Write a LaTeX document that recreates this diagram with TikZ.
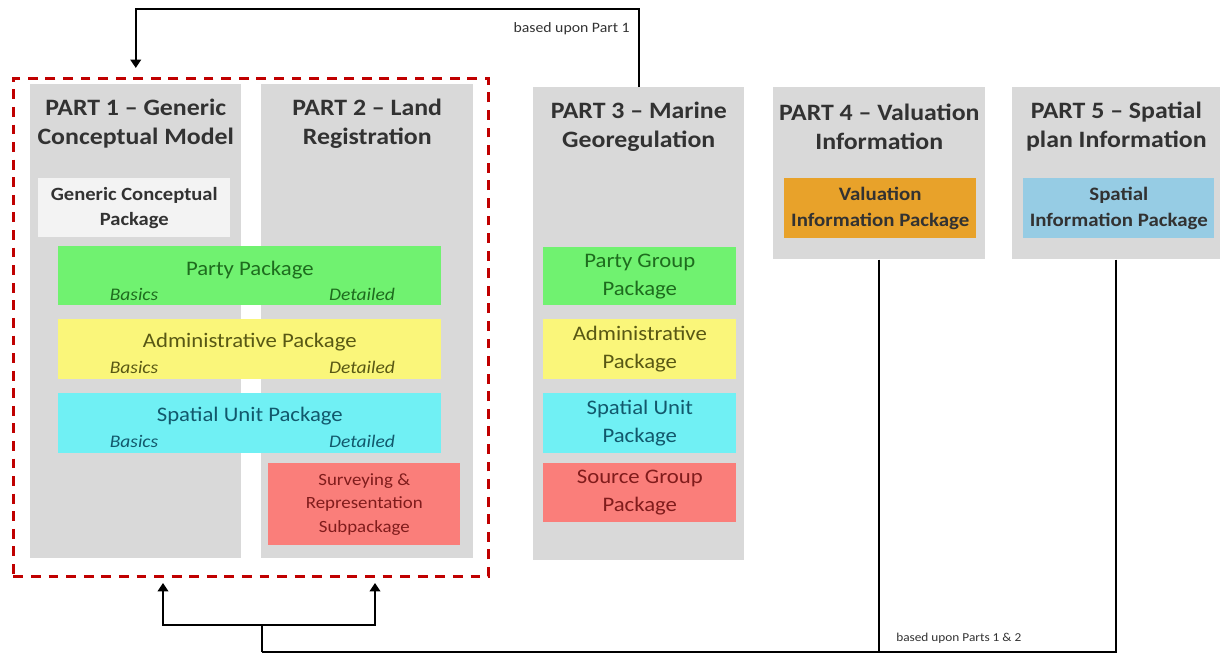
\documentclass[tikz,border=0pt]{standalone}
\usepackage{fontspec}
\setmainfont{Carlito}[FakeStretch=1.1]
\usetikzlibrary{arrows.meta,calc}
\definecolor{partgray}{RGB}{217,217,217}
\definecolor{genfill}{RGB}{243,243,243}
\definecolor{partyfill}{RGB}{112,242,112}
\definecolor{adminfill}{RGB}{250,246,122}
\definecolor{spatialfill}{RGB}{112,240,244}
\definecolor{sourcefill}{RGB}{250,126,122}
\definecolor{valfill}{RGB}{232,162,42}
\definecolor{spifill}{RGB}{150,204,228}
\definecolor{partytext}{RGB}{30,108,30}
\definecolor{admintext}{RGB}{88,88,20}
\definecolor{spatialtext}{RGB}{18,88,108}
\definecolor{sourcetext}{RGB}{128,28,28}
\definecolor{headtext}{RGB}{50,50,50}
\definecolor{framered}{RGB}{192,0,0}
\begin{document}
\begin{tikzpicture}[x=0.025cm,y=-0.025cm,
  every node/.style={inner sep=0pt,align=center},
  sz/.style 2 args={minimum width=#1*0.025cm,minimum height=#2*0.025cm},
  part/.style={fill=partgray,anchor=north west},
  head/.style={text=headtext,font=\fontsize{16.7}{20.6}\selectfont\bfseries},
  pkg/.style={anchor=north west},
  ptxt/.style={font=\fontsize{14.7}{20}\selectfont},
  itxt/.style={font=\fontsize{12.6}{14}\selectfont\itshape},
  note/.style={text=headtext,font=\fontsize{#1}{12}\selectfont},
  frame/.style={draw=framered,line width=2.1pt,dash pattern=on 7pt off 5.5pt,anchor=north west},
  conn/.style={line width=1.5pt,black},
  arr/.style={conn,-{Triangle[width=7.5pt,length=6pt]}}]
\useasboundingbox (0,0) rectangle (1220,654);
\node[part,sz={211}{474}] (p1) at (30,84) {};
\node[part,sz={212}{474}] (p2) at (261,84) {};
\node[part,sz={211}{473}] (p3) at (533,87) {};
\node[part,sz={212}{172}] (p4) at (773,87) {};
\node[part,sz={208}{172}] (p5) at (1012,87) {};
\node[frame,sz={475}{498}] (lado) at (12,77) {};
\node[head] (h1) at ($(p1.north)+(0,40)$) {PART 1 – Generic\\Conceptual Model};
\node[head] (h2) at ($(p2.north)+(0,40)$) {PART 2 – Land\\Registration};
\node[head] (h3) at ($(p3.north)+(0,40)$) {PART 3 – Marine\\Georegulation};
\node[head] (h4) at ($(p4.north)+(0,40)$) {PART 4 – Valuation\\Information};
\node[head] (h5) at ($(p5.north)+(0,40)$) {PART 5 – Spatial\\plan Information};
\node[pkg,fill=genfill,sz={192}{59},text=headtext,font=\fontsize{13.3}{17.8}\selectfont\bfseries] (gcp) at (38,178) {Generic Conceptual\\Package};
\node[pkg,fill=partyfill,sz={383}{59}] (party) at (58,246) {};
\node[ptxt,text=partytext] (partyT) at ($(party.center)+(0,-6)$) {Party Package};
\node[itxt,text=partytext] (partyB) at (134,294) {Basics};
\node[itxt,text=partytext] (partyD) at (362,294) {Detailed};
\node[pkg,fill=adminfill,sz={383}{60}] (admin) at (58,319) {};
\node[ptxt,text=admintext] (adminT) at ($(admin.center)+(0,-7)$) {Administrative Package};
\node[itxt,text=admintext] (adminB) at (134,367) {Basics};
\node[itxt,text=admintext] (adminD) at (362,367) {Detailed};
\node[pkg,fill=spatialfill,sz={383}{60}] (spatial) at (58,393) {};
\node[ptxt,text=spatialtext] (spatialT) at ($(spatial.center)+(0,-7)$) {Spatial Unit Package};
\node[itxt,text=spatialtext] (spatialB) at (134,441) {Basics};
\node[itxt,text=spatialtext] (spatialD) at (362,441) {Detailed};
\node[pkg,fill=sourcefill,sz={192}{82},text=sourcetext,font=\fontsize{12.2}{16.7}\selectfont] (survey) at (268,463) {Surveying \&\\Representation\\Subpackage};
\node[pkg,fill=partyfill,sz={193}{58},text=partytext,font=\fontsize{14.7}{20}\selectfont] (pgroup) at (543,247) {Party Group\\Package};
\node[pkg,fill=adminfill,sz={193}{60},text=admintext,font=\fontsize{14.7}{20}\selectfont] (padmin) at (543,319) {Administrative\\Package};
\node[pkg,fill=spatialfill,sz={193}{60},text=spatialtext,font=\fontsize{14.7}{20}\selectfont] (pspatial) at (543,393) {Spatial Unit\\Package};
\node[pkg,fill=sourcefill,sz={193}{59},text=sourcetext,font=\fontsize{14.7}{20}\selectfont] (psource) at (543,463) {Source Group\\Package};
\node[pkg,fill=valfill,sz={192}{60},text=headtext,font=\fontsize{13.5}{18.5}\selectfont\bfseries] (val) at (784,178) {Valuation\\Information Package};
\node[pkg,fill=spifill,sz={191}{60},text=headtext,font=\fontsize{13.5}{18.5}\selectfont\bfseries] (spi) at (1023,178) {Spatial\\Information Package};
\node[note=10.2,anchor=east] (lbl1) at (630,29) {based upon Part 1};
\node[note=8.6,anchor=west] (lbl2) at (896,638) {based upon Parts 1 \& 2};
\coordinate (bus) at (262,652);
\coordinate (fork) at (262,625);
\coordinate (in1) at (163,583);
\coordinate (in2) at (375,583);
\draw[arr] (p3.north) |- ($(p1.north)+(0,-75)$) -- ($(p1.north)+(0,-16)$);
\draw[conn] (p5.south) |- (bus);
\draw[conn] (p4.south) -- (p4.south |- bus);
\draw[conn] (bus) -- (fork);
\draw[arr] (fork) -| (in1);
\draw[arr] (fork) -| (in2);
\end{tikzpicture}
\end{document}
